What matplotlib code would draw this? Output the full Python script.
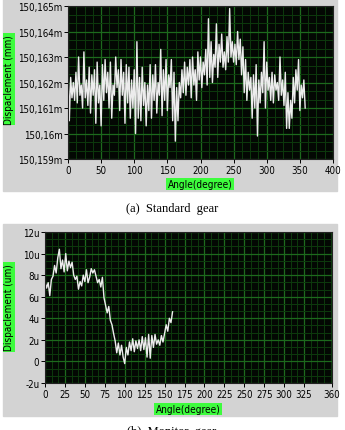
import numpy as np
import matplotlib
matplotlib.use("Agg")
import matplotlib.pyplot as plt
from matplotlib.patches import Rectangle
from matplotlib.ticker import AutoMinorLocator

# ---- data ---- #
# (a) standard gear, every 2 degrees, values in "m" units of the axis
angle_a = np.arange(0, 360, 2)
disp_a = [
    162.5, 160.5, 162.2, 161.4, 162.0, 161.3, 162.4, 161.2, 163.0, 161.5,
    161.9, 161.0, 163.2, 161.4, 162.1, 161.1, 162.6, 160.8, 162.3, 161.5,
    162.5, 160.4, 162.8, 161.2, 161.9, 160.3, 162.7, 161.3, 162.9, 161.6,
    162.4, 161.0, 162.8, 160.6, 161.9, 161.5, 163.0, 161.8, 162.5, 160.9,
    162.9, 161.5, 162.4, 160.4, 162.7, 161.2, 162.6, 160.6, 162.1, 161.0,
    162.5, 160.0, 163.6, 160.6, 162.2, 160.5, 162.6, 161.1, 162.0, 160.3,
    161.9, 160.9, 162.7, 160.6, 162.3, 161.3, 162.7, 160.8, 162.0, 161.5,
    163.3, 160.7, 162.5, 161.3, 162.9, 160.9, 162.3, 161.8, 162.9, 160.5,
    162.4, 159.7, 161.8, 160.5, 162.0, 161.4, 162.5, 161.6, 162.8, 161.5,
    162.6, 161.9, 162.9, 161.4, 163.0, 161.9, 162.5, 161.3, 163.2, 162.1,
    163.0, 161.8, 162.8, 162.3, 163.3, 161.9, 164.5, 162.2, 163.6, 162.0,
    163.1, 162.6, 164.3, 162.2, 163.5, 162.8, 163.9, 162.6, 163.2, 162.5,
    163.8, 162.8, 164.9, 163.0, 163.6, 162.8, 163.5, 162.7, 164.0, 162.9,
    163.7, 162.3, 163.4, 161.6, 162.9, 161.3, 162.4, 161.7, 162.2, 160.6,
    162.3, 161.0, 162.7, 159.9, 162.1, 161.2, 162.4, 161.6, 163.6, 161.0,
    162.8, 161.7, 162.2, 161.3, 162.4, 161.2, 162.3, 161.7, 162.0, 161.3,
    163.0, 161.5, 162.1, 161.1, 162.4, 160.2, 161.6, 160.2, 161.3, 160.6,
    162.2, 161.2, 162.5, 161.7, 162.9, 160.9, 161.9, 161.4, 162.1, 161.0,
]
yticks_a = [159, 160, 161, 162, 163, 164, 165]
ylabels_a = ["150,159m", "150,16m", "150,161m", "150,162m",
             "150,163m", "150,164m", "150,165m"]
xticks_a = [0, 50, 100, 150, 200, 250, 300, 350, 400]

# (b) monitor gear, every 2 degrees, values in um
angle_b = np.arange(0, 162, 2)
disp_b = [
    7.4, 6.8, 7.3, 6.1, 7.6, 7.9, 8.9, 8.2, 9.6, 10.4,
    8.6, 9.4, 8.3, 10.0, 8.4, 9.3, 8.7, 9.2, 8.0, 7.6,
    7.9, 6.7, 7.4, 7.0, 8.0, 7.4, 8.5, 7.3, 7.8, 8.6,
    8.2, 8.5, 7.9, 7.3, 7.6, 6.9, 7.8, 5.9, 5.2, 4.5,
    5.1, 3.8, 3.4, 2.6, 1.9, 0.8, 1.7, 0.6, 1.5, 0.4,
    -0.2, 1.3, 0.6, 1.8, 1.0, 2.1, 0.9, 1.9, 1.2, 2.0,
    1.0, 2.3, 1.1, 2.2, 0.4, 2.5, 0.3, 2.4, 1.3, 2.5,
    1.6, 2.0, 1.5, 2.4, 1.8, 2.6, 3.4, 2.8, 4.0, 3.6,
    4.6,
]
yticks_b = [-2, 0, 2, 4, 6, 8, 10, 12]
ylabels_b = ["-2u", "0", "2u", "4u", "6u", "8u", "10u", "12u"]
xticks_b = [0, 25, 50, 75, 100, 125, 150, 175, 200, 225, 250, 275, 300, 325, 360]

FONT = "DejaVu Sans"
GRAY = "#d3d3d3"
GREEN_BOX = "#3dfc3d"

fig = plt.figure(figsize=(3.45, 4.31), dpi=100)
fig.patch.set_facecolor("white")

# gray panels behind each chart
for top in (0, 225):
    fig.patches.append(Rectangle((3 / 345, 1 - (top + 192) / 431), 334 / 345,
                                 192 / 431, transform=fig.transFigure,
                                 color=GRAY, zorder=-5))


def style_axes(ax, xsub, ysub):
    ax.set_zorder(2)
    ax.set_facecolor("#030803")
    ax.xaxis.set_minor_locator(AutoMinorLocator(xsub))
    ax.yaxis.set_minor_locator(AutoMinorLocator(ysub))
    ax.grid(which="major", color="#1d6a1d", linewidth=0.9)
    ax.grid(which="minor", color="#0d3a0d", linewidth=0.7)
    ax.set_axisbelow(True)
    for s in ax.spines.values():
        s.set_color("#222222")
        s.set_linewidth(0.8)
    ax.tick_params(which="major", length=3, width=0.7, pad=1, labelsize=7,
                   colors="black")
    ax.tick_params(which="minor", length=0)
    for lab in ax.get_xticklabels() + ax.get_yticklabels():
        lab.set_family(FONT)
        lab.set_fontstretch("condensed")


def green_label(x, y, s, rot=0):
    fig.text(x / 345, 1 - y / 431, s, rotation=rot, ha="center", va="center",
             fontsize=7.2, family=FONT, fontstretch="condensed", zorder=3,
             bbox=dict(boxstyle="square,pad=0.12", fc=GREEN_BOX, ec="none"))


# ---- (a) Standard gear ---- #
ax1 = fig.add_axes([68 / 345, 1 - 160 / 431, 265 / 345, 153 / 431])
ax1.plot(angle_a, disp_a, color="#ececec", linewidth=1.0)
ax1.set_xlim(0, 400)
ax1.set_ylim(159, 165)
ax1.set_xticks(xticks_a)
ax1.set_yticks(yticks_a)
ax1.set_yticklabels(ylabels_a)
style_axes(ax1, 4, 3)

green_label(9, 80, "Dispaclement (mm)", rot=90)
green_label(200, 185, "Angle(degree)")
fig.text(172 / 345, 1 - 209 / 431, "(a)  Standard  gear", ha="center",
         va="center", fontsize=9, family=["Liberation Serif", "DejaVu Serif"])

# ---- (b) Monitor gear ---- #
ax2 = fig.add_axes([45 / 345, 1 - 384 / 431, 287 / 345, 151 / 431])
ax2.plot(angle_b, disp_b, color="#ececec", linewidth=1.0)
ax2.set_xlim(0, 360)
ax2.set_ylim(-2, 12)
ax2.set_xticks(xticks_b)
ax2.set_yticks(yticks_b)
ax2.set_yticklabels(ylabels_b)
style_axes(ax2, 3, 3)

green_label(9, 308, "Dispaclement (um)", rot=90)
green_label(188, 410, "Angle(degree)")
fig.text(172 / 345, 1 - 432 / 431, "(b)  Monitor  gear", ha="center",
         va="center", fontsize=9, family=["Liberation Serif", "DejaVu Serif"])

fig.savefig("out.png", dpi=100)
